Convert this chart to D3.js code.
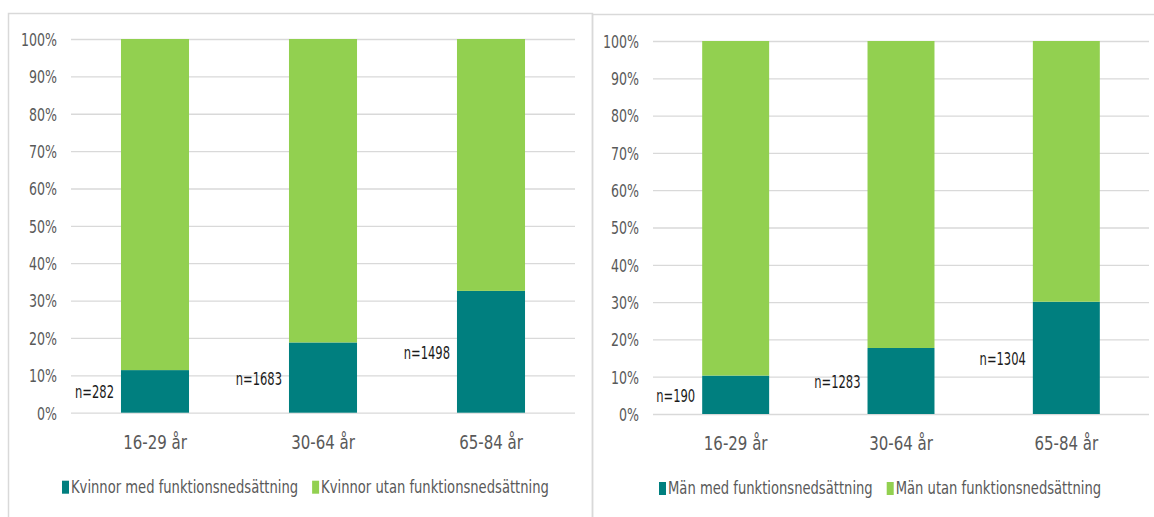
<!DOCTYPE html>
<html>
<head>
<meta charset="utf-8">
<script src="https://cdn.jsdelivr.net/npm/d3@7"></script>
<style>
  body { margin: 0; background: #fff; }
  svg { display: block; }
  text { font-family: "DejaVu Sans", Verdana, sans-serif; fill: #595959; }
</style>
</head>
<body>
<script>
// data (percent of each age group)
const ageGroups = ["16-29 år", "30-64 år", "65-84 år"];
const womenWith = [11.4, 18.8, 32.6];
const womenWithout = [88.6, 81.2, 67.4];
const womenN = [282, 1683, 1498];
const menWith = [10.3, 17.7, 30.1];
const menWithout = [89.7, 82.3, 69.9];
const menN = [190, 1283, 1304];
const yTicks = [0, 10, 20, 30, 40, 50, 60, 70, 80, 90, 100];

const teal = "#007f7f";
const green = "#92d050";
const squeeze = 0.72; // narrow type like the original

const svg = d3.select("body").append("svg")
    .attr("width", 1154)
    .attr("height", 517);

// panel frames
svg.append("rect")
    .attr("x", 8.5).attr("y", 13.5)
    .attr("width", 584).attr("height", 520)
    .attr("fill", "none").attr("stroke", "#d9d9d9").attr("stroke-width", 1.5);
svg.append("rect")
    .attr("x", 592.5).attr("y", 14.5)
    .attr("width", 580).attr("height", 520)
    .attr("fill", "none").attr("stroke", "#d9d9d9").attr("stroke-width", 1.5);

const drawPanel = function (opt) {
    const rows = ageGroups.map((g, i) => ({group: g, with: opt.withVals[i], without: opt.withoutVals[i], n: opt.nVals[i]}));

    const x = d3.scaleBand()
        .domain(ageGroups)
        .range([opt.left, opt.right])
        .paddingInner(0.595)
        .paddingOuter(0.2975);

    const y = d3.scaleLinear()
        .domain([0, 100])
        .range([opt.bottom, opt.top]);

    const g = svg.append("g");

    // gridlines + tick labels
    const yAxis = g.append("g")
        .attr("transform", `translate(${opt.left},0)`)
        .call(d3.axisLeft(y)
            .tickValues(yTicks)
            .tickSize(-(opt.right - opt.left))
            .tickFormat(d => d + "%"));
    yAxis.select(".domain").remove();
    yAxis.selectAll(".tick line").attr("stroke", "#d9d9d9").attr("stroke-width", 1.3);
    yAxis.selectAll(".tick text")
        .attr("x", -14 / squeeze)
        .attr("dy", "0.36em")
        .attr("transform", `scale(${squeeze},1)`)
        .style("font-size", "17.5px")
        .style("fill", "#595959");

    const stack = d3.stack().keys(["with", "without"]);
    const series = stack(rows);
    const colors = {with: teal, without: green};

    g.selectAll("g.series")
        .data(series)
        .enter()
        .append("g")
        .attr("fill", d => colors[d.key])
        .selectAll("rect")
        .data(d => d)
        .enter()
        .append("rect")
            .attr("x", d => x(d.data.group))
            .attr("width", x.bandwidth())
            .attr("y", d => y(d[1]))
            .attr("height", d => y(d[0]) - y(d[1]));

    // category labels
    g.selectAll("text.cat")
        .data(ageGroups)
        .enter()
        .append("text")
        .attr("class", "cat")
        .attr("transform", d => `translate(${x(d) + x.bandwidth() / 2},${opt.bottom + 36}) scale(0.79,1)`)
        .attr("text-anchor", "middle")
        .style("font-size", "19px")
        .text(d => d);

    // n labels, left of each bar
    g.selectAll("text.n")
        .data(rows)
        .enter()
        .append("text")
        .attr("class", "n")
        .attr("transform", d => `translate(${x(d.group) - 7},${y(d.with / 2) + 7}) scale(0.64,1)`)
        .attr("text-anchor", "end")
        .style("font-size", "18px")
        .style("fill", "#1a1a1a")
        .text(d => "n=" + d.n);

    // legend
    const lg = g.append("g")
        .attr("transform", `translate(${opt.legendX},${opt.bottom + 80})`);
    let cx = 0;
    opt.legend.forEach((name, i) => {
        const item = lg.append("g").attr("transform", `translate(${cx},0)`);
        item.append("rect")
            .attr("x", 0).attr("y", -12)
            .attr("width", 7).attr("height", 13)
            .attr("fill", i === 0 ? teal : green);
        const t = item.append("text")
            .attr("transform", `translate(9,0) scale(0.73,1)`)
            .style("font-size", "18px")
            .text(name);
        cx += 9 + t.node().getComputedTextLength() * 0.73 + 14;
    });
};

drawPanel({
    left: 71, right: 575, top: 39, bottom: 412.7,
    withVals: womenWith, withoutVals: womenWithout, nVals: womenN,
    legendX: 62,
    legend: ["Kvinnor med funktionsnedsättning", "Kvinnor utan funktionsnedsättning"]
});

drawPanel({
    left: 653, right: 1149, top: 41, bottom: 414,
    withVals: menWith, withoutVals: menWithout, nVals: menN,
    legendX: 659,
    legend: ["Män med funktionsnedsättning", "Män utan funktionsnedsättning"]
});
</script>
</body>
</html>
